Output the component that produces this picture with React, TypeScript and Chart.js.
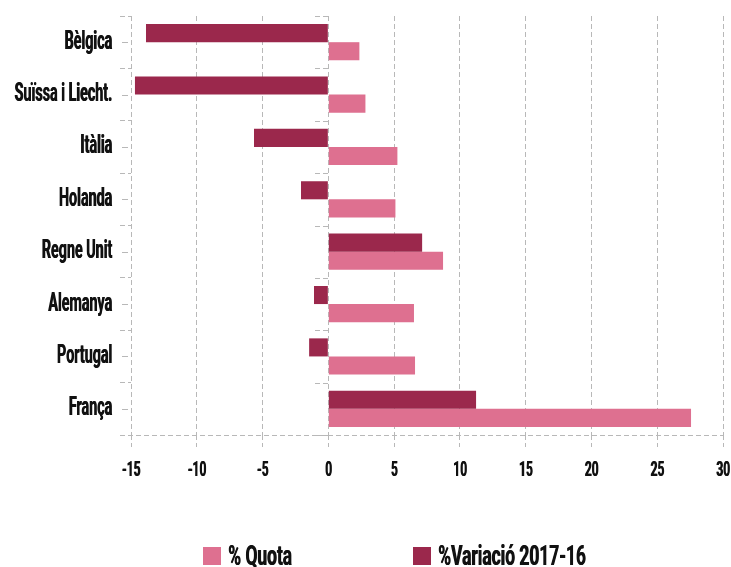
import React, { useEffect, useRef } from "react";
import { Chart, registerables } from "chart.js";

Chart.register(...registerables);

const categories = ["Bèlgica", "Suïssa i Liecht.", "Itàlia", "Holanda", "Regne Unit", "Alemanya", "Portugal", "França"];
const quota = [2.36, 2.82, 5.25, 5.1, 8.72, 6.51, 6.59, 27.57];
const variacio = [-13.86, -14.7, -5.65, -2.08, 7.13, -1.09, -1.46, 11.23];
const seriesNames = ["% Quota", "%Variació 2017-16"];
const xMin = -15;
const xMax = 30;
const xStep = 5;

const PINK = "#de7090";
const MAROON = "#9b284c";
const GRID = "#b8b8b8";
const TEXT = "#111111";
const FONT = "Roboto, 'Liberation Sans', sans-serif";
const DASH = [5, 3];
// horizontal condensing per font size (emulates the condensed display face)
const CONDENSE: Record<string, number> = { "26": 0.55, "20": 0.6, "28": 0.62 };

export default function App() {
  const ref = useRef<HTMLCanvasElement | null>(null);
  useEffect(() => {
    if (!ref.current) return;

    const condense = {
      id: "condense",
      beforeInit(chart: any) {
        const ctx = chart.ctx;
        const orig = ctx.fillText.bind(ctx);
        ctx.fillText = (text: string, x: number, y: number, maxWidth?: number) => {
          const m = /(\d+(?:\.\d+)?)px/.exec(ctx.font);
          const key = m ? String(Math.round(parseFloat(m[1]))) : "";
          const f = CONDENSE[key] || 1;
          const w = ctx.measureText(text).width * f;
          const mw = maxWidth !== undefined ? Math.min(maxWidth, w) : w;
          orig(text, x, y, mw);
          if (f < 1) orig(text, x + 0.6, y, mw);
        };
      },
    };

    const decorations = {
      id: "decorations",
      afterDraw(chart: any) {
        const y = chart.scales.y;
        const x = chart.scales.x;
        const ca = chart.chartArea;
        const ctx = chart.ctx;
        ctx.save();
        ctx.strokeStyle = GRID;
        ctx.lineWidth = 1;
        // small ticks at category centres
        for (let i = 0; i < categories.length; i++) {
          const py = Math.round(y.getPixelForValue(i)) + 0.5;
          ctx.beginPath();
          ctx.moveTo(ca.left - 9, py);
          ctx.lineTo(ca.left - 3, py);
          ctx.stroke();
        }
        // dashed marks left of the zero line at category boundaries
        const step = y.getPixelForValue(1) - y.getPixelForValue(0);
        const x0 = Math.round(x.getPixelForValue(0));
        ctx.setLineDash(DASH);
        for (let i = 0; i <= categories.length; i++) {
          const py = Math.round(y.getPixelForValue(i) - step / 2) + 0.5;
          ctx.beginPath();
          ctx.moveTo(x0 - 13, py);
          ctx.lineTo(x0, py);
          ctx.stroke();
        }
        // dashed bottom axis line
        const by = Math.round(ca.bottom) + 0.5;
        ctx.beginPath();
        ctx.moveTo(ca.left - 11, by);
        ctx.lineTo(ca.right, by);
        ctx.stroke();
        ctx.setLineDash([]);

        // legend
        const items = [
          { text: seriesNames[0], color: chart.data.datasets[1].backgroundColor, bx: 203 },
          { text: seriesNames[1], color: chart.data.datasets[0].backgroundColor, bx: 413 },
        ];
        ctx.font = `bold 28px ${FONT}`;
        ctx.textAlign = "left";
        ctx.textBaseline = "alphabetic";
        for (const it of items) {
          ctx.fillStyle = it.color;
          ctx.fillRect(it.bx, 547, 18, 18);
          ctx.fillStyle = TEXT;
          ctx.fillText(it.text, it.bx + 25, 565);
        }
        ctx.restore();
      },
    };

    const chart = new Chart(ref.current, {
      type: "bar",
      data: {
        labels: categories,
        datasets: [
          {
            label: seriesNames[1],
            data: variacio,
            backgroundColor: MAROON,
            borderWidth: 0,
            barPercentage: 1,
            categoryPercentage: 0.69,
          },
          {
            label: seriesNames[0],
            data: quota,
            backgroundColor: PINK,
            borderWidth: 0,
            barPercentage: 1,
            categoryPercentage: 0.69,
          },
        ],
      },
      options: {
        indexAxis: "y",
        animation: false,
        responsive: true,
        maintainAspectRatio: false,
        layout: { padding: { left: 0, right: 8, top: 16, bottom: 37 } },
        plugins: {
          tooltip: { enabled: false },
          legend: { display: false },
        },
        scales: {
          x: {
            min: xMin,
            max: xMax,
            ticks: {
              stepSize: xStep,
              padding: 12,
              color: TEXT,
              maxRotation: 0,
              autoSkip: false,
              font: { family: FONT, size: 20, weight: "bold" },
            },
            grid: {
              color: GRID,
              tickLength: 12,
              tickColor: GRID,
              tickBorderDash: DASH,
            },
            border: { display: false, dash: DASH },
            afterFit: (s: any) => {
              s.height = 95;
              s.paddingLeft = 0;
              s.paddingRight = 0;
            },
          },
          y: {
            ticks: {
              color: TEXT,
              padding: 8,
              font: { family: FONT, size: 26, weight: "bold" },
            },
            grid: {
              offset: true,
              drawOnChartArea: false,
              tickLength: 11,
              color: GRID,
              tickColor: GRID,
              tickBorderDash: DASH,
            },
            border: { display: false },
            afterFit: (s: any) => {
              s.width = 131;
              s.paddingTop = 0;
              s.paddingBottom = 0;
            },
          },
        },
      } as any,
      plugins: [condense, decorations],
    });
    return () => chart.destroy();
  }, []);
  return (
    <div style={{ position: "fixed", left: 0, top: 0, width: 731, height: 567, background: "#fff" }}>
      <canvas ref={ref} />
    </div>
  );
}
